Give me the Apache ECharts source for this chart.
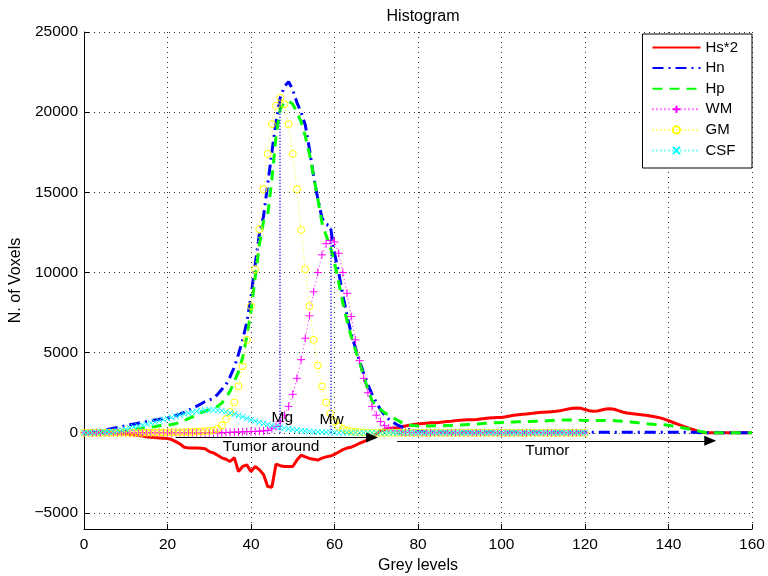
<!DOCTYPE html>
<html>
<head>
<meta charset="utf-8">
<script src="https://cdn.jsdelivr.net/npm/echarts@6/dist/echarts.min.js"></script>
<style>
  html, body { margin: 0; padding: 0; background: #fff; }
  #chart { width: 768px; height: 576px; }
</style>
</head>
<body>
<div id="chart"></div>
<script>
// grey levels 0..160 (x positions of every histogram bin)
const greyLevels = Array.from({ length: 161 }, (_, i) => i);

// Hs*2 (red)
const hs2 = [
  0, 0, 0, 0, 0, 0, 0, -10, -20, -30,
  -50, -100, -130, -160, -200, -240, -280, -300, -320, -340,
  -360, -420, -550, -700, -900, -940, -940, -950, -960, -1000,
  -1170, -1250, -1400, -1560, -1650, -1790, -1550, -2420, -2100, -2000,
  -2420, -2100, -2300, -2600, -3350, -3400, -1950, -2050, -2100, -2100,
  -2100, -1700, -1400, -1500, -1600, -1650, -1700, -1580, -1500, -1450,
  -1350, -1200, -1050, -950, -900, -780, -650, -550, -430, -250,
  -50, 100, 200, 270, 300, 320, 360, 420, 480, 520,
  550, 580, 600, 620, 630, 650, 680, 700, 720, 760,
  780, 800, 810, 810, 830, 860, 890, 920, 940, 950,
  960, 1000, 1050, 1100, 1130, 1150, 1180, 1210, 1240, 1260,
  1280, 1300, 1320, 1340, 1380, 1430, 1480, 1530, 1550, 1530,
  1450, 1380, 1340, 1360, 1420, 1480, 1500, 1470, 1380, 1300,
  1240, 1200, 1170, 1140, 1110, 1080, 1030, 980, 930, 850,
  760, 660, 560, 460, 370, 280, 190, 100, 30, 0,
  0, 0, 0, 0, 0, 0, 0, 0, 0, 0, 0
];

// Hn (blue dash-dot)
const hn = [
  0, 20, 50, 90, 130, 180, 230, 280, 330, 390,
  450, 500, 550, 600, 650, 700, 750, 800, 850, 890,
  930, 1000, 1080, 1170, 1280, 1400, 1530, 1660, 1800, 1950,
  2050, 2150, 2400, 2700, 3000, 3500, 4100, 4900, 5800, 6900,
  8500, 10500, 12400, 13500, 15500, 17500, 19400, 20900, 21600, 21900,
  21400, 20600, 20000, 19200, 17700, 16000, 14600, 13400, 13000, 12900,
  11200, 10000, 8600, 7300, 6200, 5300, 4500, 3700, 3000, 2400,
  1900, 1450, 1100, 850, 650, 500, 380, 280, 200, 140,
  100, 80, 60, 50, 40, 40, 40, 40, 40, 40,
  40, 40, 40, 40, 40, 40, 40, 40, 40, 40,
  40, 40, 40, 40, 40, 40, 40, 40, 40, 40,
  40, 40, 40, 40, 40, 40, 40, 40, 40, 40,
  40, 40, 40, 40, 40, 40, 40, 40, 40, 40,
  40, 40, 40, 40, 40, 40, 40, 40, 40, 40,
  40, 40, 40, 40, 40, 40, 30, 20, 10, 0,
  0, 0, 0, 0, 0, 0, 0, 0, 0, 0, 0
];

// Hp (green dashed)
const hp = [
  0, 10, 20, 30, 40, 50, 60, 70, 80, 100,
  130, 160, 200, 240, 280, 320, 360, 400, 440, 460,
  480, 520, 580, 650, 750, 880, 1000, 1120, 1250, 1350,
  1430, 1500, 1650, 1850, 2200, 2600, 3200, 3800, 4700, 6000,
  7600, 9700, 11700, 13200, 13600, 15800, 18500, 20200, 20600, 20700,
  20500, 20000, 19400, 18500, 17400, 16000, 14600, 13100, 12300, 11600,
  10600, 9400, 8100, 7000, 6000, 5200, 4400, 3500, 2700, 2000,
  1650, 1450, 1250, 1100, 950, 800, 650, 550, 480, 450,
  430, 430, 430, 430, 440, 440, 440, 450, 460, 470,
  480, 500, 520, 540, 550, 570, 590, 610, 620, 630,
  650, 660, 670, 680, 690, 700, 700, 710, 720, 720,
  740, 750, 770, 790, 800, 800, 800, 790, 780, 780,
  770, 770, 770, 770, 770, 770, 770, 760, 740, 720,
  700, 680, 650, 620, 590, 560, 540, 520, 510, 500,
  470, 430, 380, 330, 290, 240, 180, 120, 60, 20,
  0, 0, 0, 0, 0, 0, 0, 0, 0, 0, 0
];

// WM (magenta +), grey levels 0..120
const wm = [
  0, 0, 0, 0, 0, 0, 0, 0, 0, 0,
  0, 0, 0, 0, 0, 0, 0, 0, 0, 0,
  0, 0, 0, 0, 0, 0, 0, 0, 0, 0,
  0, 0, 0, 0, 20, 30, 40, 50, 60, 70,
  80, 90, 100, 120, 150, 250, 400, 700, 1100, 1650,
  2400, 3400, 4560, 5900, 7300, 8800, 10000, 11100, 11800, 12000,
  11900, 11200, 10000, 8700, 7250, 5800, 4500, 3400, 2500, 1650,
  1100, 700, 440, 300, 180, 100, 60, 30, 20, 10,
  0, 0, 0, 0, 0, 0, 0, 0, 0, 0,
  0, 0, 0, 0, 0, 0, 0, 0, 0, 0,
  0, 0, 0, 0, 0, 0, 0, 0, 0, 0,
  0, 0, 0, 0, 0, 0, 0, 0, 0, 0,
  0
];

// GM (yellow o), grey levels 0..120
const gm = [
  0, 0, 0, 0, 0, 0, 0, 0, 0, 0,
  0, 0, 0, 0, 0, 10, 10, 10, 20, 20,
  20, 30, 30, 40, 40, 50, 60, 70, 80, 100,
  120, 150, 250, 450, 850, 1300, 1900, 2900, 4150, 5800,
  7900, 10200, 12700, 15200, 17400, 19250, 20400, 20900, 20500, 19250,
  17400, 15200, 12650, 10200, 7900, 5800, 4200, 2900, 1900, 1200,
  700, 400, 250, 150, 100, 60, 40, 20, 10, 0,
  0, 0, 0, 0, 0, 0, 0, 0, 0, 0,
  0, 0, 0, 0, 0, 0, 0, 0, 0, 0,
  0, 0, 0, 0, 0, 0, 0, 0, 0, 0,
  0, 0, 0, 0, 0, 0, 0, 0, 0, 0,
  0, 0, 0, 0, 0, 0, 0, 0, 0, 0,
  0
];

// CSF (cyan x), grey levels 0..120
const csf = [
  0, 0, 10, 20, 30, 40, 60, 80, 120, 170,
  230, 300, 360, 420, 480, 540, 610, 680, 750, 820,
  890, 960, 1030, 1100, 1170, 1230, 1290, 1340, 1380, 1410,
  1430, 1430, 1410, 1370, 1310, 1240, 1160, 1080, 990, 900,
  810, 730, 650, 580, 510, 450, 390, 340, 290, 250,
  210, 170, 140, 110, 90, 70, 50, 40, 30, 20,
  15, 10, 10, 10, 10, 10, 10, 10, 10, 10,
  10, 10, 10, 10, 10, 10, 10, 10, 10, 10,
  10, 10, 10, 10, 10, 10, 10, 10, 10, 10,
  10, 10, 10, 10, 10, 10, 10, 10, 10, 10,
  10, 10, 10, 10, 10, 10, 10, 10, 10, 10,
  10, 10, 10, 10, 10, 10, 10, 10, 10, 10,
  10
];

const seriesNames = ['Hs*2', 'Hn', 'Hp', 'WM', 'GM', 'CSF'];
const yTicks = [-5000, 0, 5000, 10000, 15000, 20000, 25000];
const mgLevel = 47;
const mwLevel = 59;

const FONT = 'Liberation Sans, Arial, sans-serif';
const pair = (arr) => arr.map((v, i) => [greyLevels[i], v]);
const plusPath = 'path://M5,0L5,10M0,5L10,5';
const crossPath = 'path://M0,0L10,10M0,10L10,0';
// plain lines: no symbol in the legend either
const noMarker = { color: 'transparent', borderColor: 'transparent', borderWidth: 0 };

const chart = echarts.init(document.getElementById('chart'));

const gridLine = { show: true, lineStyle: { color: '#333', type: [1, 4], width: 1 } };

const option = {
  animation: false,
  backgroundColor: '#fff',
  textStyle: { fontFamily: FONT },
  title: {
    text: 'Histogram',
    left: 418,
    top: 4,
    textAlign: 'center',
    textStyle: { fontFamily: FONT, fontSize: 16, fontWeight: 'normal', color: '#000' },
  },
  grid: { left: 84, right: 16, top: 32, bottom: 47, outerBoundsMode: 'none' },
  legend: {
    data: seriesNames,
    orient: 'vertical',
    right: 16,
    top: 34,
    itemWidth: 48,
    itemHeight: 9,
    itemGap: 5.6,
    padding: [6, 14, 10, 9],
    backgroundColor: '#fff',
    borderColor: '#000',
    borderWidth: 1,
    borderRadius: 0,
    textStyle: { fontFamily: FONT, fontSize: 15, color: '#000' },
  },
  xAxis: {
    type: 'value',
    min: 0,
    max: 160,
    interval: 20,
    name: 'Grey levels',
    nameLocation: 'middle',
    nameGap: 26,
    nameTextStyle: { fontFamily: FONT, fontSize: 16, color: '#000' },
    axisLine: { onZero: false, lineStyle: { color: '#000', width: 1 } },
    axisTick: { inside: true, length: 5, lineStyle: { color: '#000' } },
    axisLabel: { margin: 8, fontFamily: FONT, fontSize: 15.5, color: '#000' },
    splitLine: gridLine,
  },
  yAxis: {
    type: 'value',
    min: -6000,
    max: 25000,
    name: 'N. of Voxels',
    nameLocation: 'middle',
    nameGap: 58,
    nameTextStyle: { fontFamily: FONT, fontSize: 16, color: '#000' },
    axisLine: { show: true, lineStyle: { color: '#000', width: 1 } },
    axisTick: { show: true, inside: true, length: 5, customValues: yTicks, lineStyle: { color: '#000' } },
    axisLabel: {
      margin: 6,
      fontFamily: FONT,
      fontSize: 15.5,
      color: '#000',
      customValues: yTicks,
      formatter: (v) => (v < 0 ? '\u2212' + Math.abs(v) : String(v)),
    },
    splitLine: gridLine,
  },
  series: [
    {
      name: 'Hs*2',
      type: 'line',
      data: pair(hs2),
      symbol: 'none',
      lineStyle: { color: '#ff0000', width: 3 },
      itemStyle: noMarker,
    },
    {
      name: 'Hn',
      type: 'line',
      data: pair(hn),
      symbol: 'none',
      lineStyle: { color: '#0000ff', width: 3, type: [11, 5, 2, 5] },
      itemStyle: noMarker,
    },
    {
      name: 'Hp',
      type: 'line',
      data: pair(hp),
      symbol: 'none',
      lineStyle: { color: '#00ff00', width: 3, type: [10, 7] },
      itemStyle: noMarker,
    },
    {
      name: 'WM',
      type: 'line',
      data: pair(wm),
      symbol: plusPath,
      symbolSize: 8,
      showAllSymbol: true,
      lineStyle: { color: '#ff00ff', width: 1, type: [1, 3] },
      itemStyle: { color: 'transparent', borderColor: '#ff00ff', borderWidth: 1 },
    },
    {
      name: 'GM',
      type: 'line',
      data: pair(gm),
      symbol: 'circle',
      symbolSize: 7,
      showAllSymbol: true,
      lineStyle: { color: '#ffff00', width: 1, type: [1, 3] },
      itemStyle: { color: 'transparent', borderColor: '#ffff00', borderWidth: 1 },
    },
    {
      name: 'CSF',
      type: 'line',
      data: pair(csf),
      symbol: crossPath,
      symbolSize: 6,
      showAllSymbol: true,
      lineStyle: { color: '#00ffff', width: 1, type: [1, 3] },
      itemStyle: { color: 'transparent', borderColor: '#00ffff', borderWidth: 1 },
    },
    {
      // annotations: Mg / Mw markers and tumour arrows
      name: 'notes',
      type: 'line',
      data: [],
      silent: true,
      z: 5,
      markLine: {
        silent: true,
        animation: false,
        label: { show: false },
        emphasis: { disabled: true },
        data: [
          [
            { coord: [mgLevel, 0], symbol: 'none', lineStyle: { color: '#0000ff', type: [1, 2], width: 1.5 } },
            { coord: [mgLevel, hn[mgLevel]], symbol: 'none' },
          ],
          [
            { coord: [mwLevel, 0], symbol: 'none', lineStyle: { color: '#0000ff', type: [1, 2], width: 1.5 } },
            { coord: [mwLevel, hn[mwLevel]], symbol: 'none' },
          ],
          [
            { coord: [22, -300], symbol: 'none', lineStyle: { color: '#000', type: 'solid', width: 1 } },
            { coord: [69, -300], symbol: 'triangle', symbolSize: [10, 12] },
          ],
          [
            { coord: [75, -500], symbol: 'none', lineStyle: { color: '#000', type: 'solid', width: 1 } },
            { coord: [150, -500], symbol: 'triangle', symbolSize: [10, 12] },
          ],
        ],
      },
      markPoint: {
        silent: true,
        symbol: 'circle',
        symbolSize: 0,
        label: { show: true, position: 'inside', fontFamily: FONT, fontSize: 15.5, color: '#000' },
        data: [
          { coord: [47.5, 950], value: 'Mg', label: { formatter: 'Mg' } },
          { coord: [59.3, 800], value: 'Mw', label: { formatter: 'Mw' } },
          { coord: [44.8, -880], value: 'Tumor around', label: { formatter: 'Tumor around' } },
          { coord: [111, -1130], value: 'Tumor', label: { formatter: 'Tumor' } },
        ],
      },
    },
  ],
};

chart.setOption(option);
</script>
</body>
</html>
